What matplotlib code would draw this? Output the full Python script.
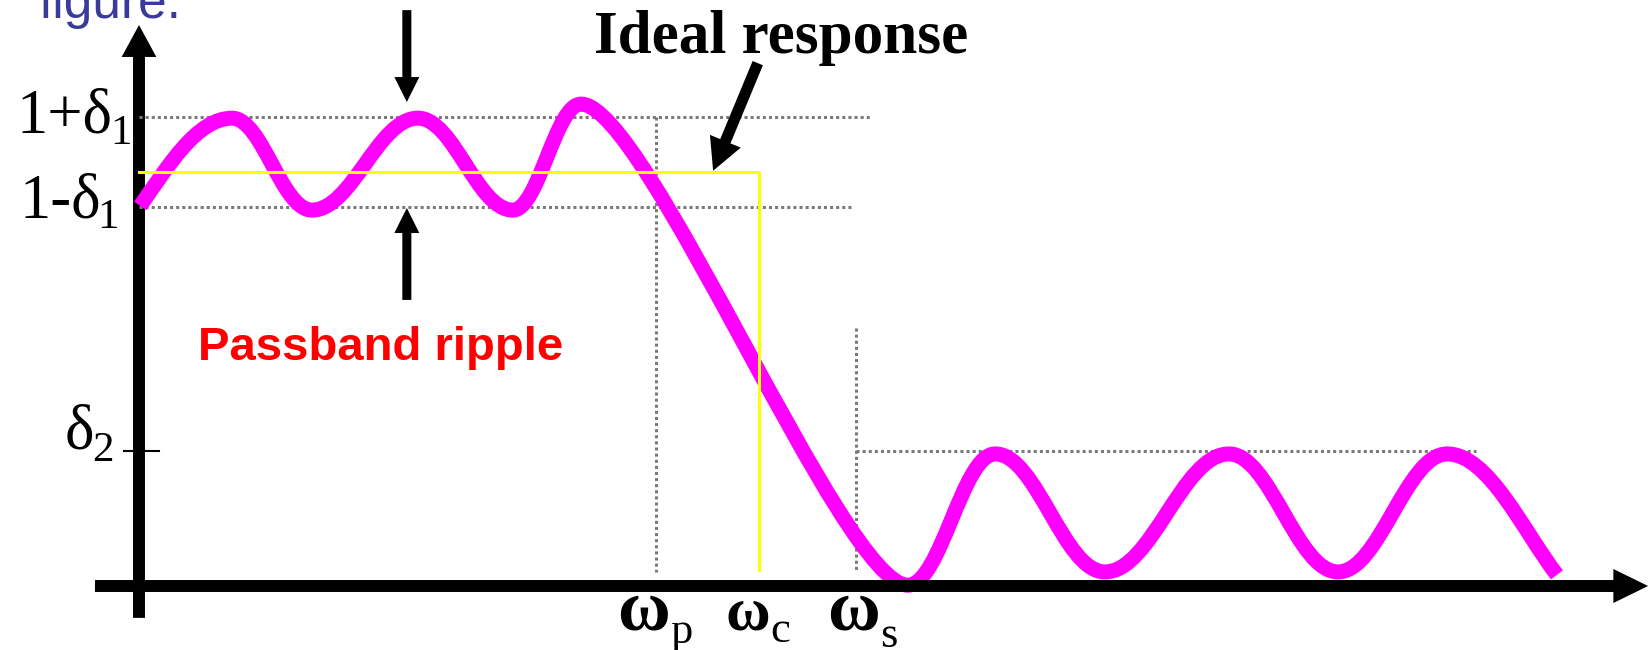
import matplotlib.pyplot as plt
from matplotlib.path import Path
from matplotlib.patches import PathPatch, FancyArrowPatch

plt.rcParams['font.family'] = 'Liberation Serif'

# frequency axis, normalised so that the cut-off wc = 1
w_p = 0.834
w_c = 1.0
w_s = 1.156

# magnitude levels
ideal_level = 1.0
pass_hi = 1.133   # 1 + delta1
pass_lo = 0.915   # 1 - delta1
stop_hi = 0.326   # delta2

# turning points of the sketched response (start, peaks/troughs, end)
resp_w = [0.002, 0.150, 0.279, 0.450, 0.603, 0.713, 1.240,
          1.381, 1.558, 1.758, 1.934, 2.110, 2.287]
resp_mag = [0.918, 1.130, 0.908, 1.130, 0.908, 1.164, 0.002,
            0.319, 0.034, 0.319, 0.034, 0.319, 0.027]
# roundness of each segment between turning points
resp_k = [0.38, 0.38, 0.38, 0.38, 0.38, 0.2,
          0.38, 0.38, 0.38, 0.38, 0.38, 0.38]

level_labels = ['1+δ', '1-δ', 'δ']
level_subs = ['1', '1', '2']
freq_subs = ['p', 'c', 's']

#%% figure: one axes over the whole canvas, 620 px per unit of w, 414 px per unit of |H|
fig = plt.figure(figsize=(16.5, 6.5), dpi=100, facecolor='white')
ax = fig.add_axes([0, 0, 1, 1])
ax.set_xlim(-139 / 620, 1511 / 620)
ax.set_ylim(-64 / 414, 586 / 414)
ax.axis('off')


def arrow(tail, tip, tw, hw, hl, z=5):
    style = f'simple,tail_width={tw},head_width={hw},head_length={hl}'
    ax.add_patch(FancyArrowPatch(tail, tip, arrowstyle=style, mutation_scale=1,
                                 color='black', lw=0, shrinkA=0, shrinkB=0, zorder=z))


# axes with arrow heads
arrow((0, -0.077), (0, 1.355), 8.6, 25, 23, z=1)
arrow((-0.071, 0), (2.434, 0), 8.6, 24.5, 25, z=6)
ax.plot([-0.024, 0.032], [stop_hi, stop_hi], color='black', lw=1.5, zorder=2)

# dotted guide lines
dot = dict(color='#7a7a7a', lw=2.2, linestyle=(0, (1, 1)), zorder=2)
ax.plot([0, 1.182], [pass_hi, pass_hi], **dot)
ax.plot([0, 1.153], [pass_lo, pass_lo], **dot)
ax.plot([w_p, w_p], [pass_hi, 0.034], **dot)
ax.plot([w_s, w_s], [0.623, 0.034], **dot)
ax.plot([w_s, 2.156], [stop_hi, stop_hi], **dot)

# sketched magnitude response as a chain of cubic Bezier segments
verts = [(resp_w[0], resp_mag[0])]
codes = [Path.MOVETO]
n = len(resp_w)
for i in range(n - 1):
    x0, y0, x1, y1 = resp_w[i], resp_mag[i], resp_w[i + 1], resp_mag[i + 1]
    dx, dy, k = x1 - x0, y1 - y0, resp_k[i]
    c1 = (x0 + 0.3 * dx, y0 + 0.45 * dy) if i == 0 else (x0 + k * dx, y0)
    c2 = (x1 - 0.3 * dx, y1 - 0.35 * dy) if i == n - 2 else (x1 - k * dx, y1)
    verts += [c1, c2, (x1, y1)]
    codes += [Path.CURVE4] * 3
ax.add_patch(PathPatch(Path(verts, codes), facecolor='none', edgecolor='#ff00ff',
                       lw=10.8, capstyle='butt', joinstyle='round', zorder=4))

# ideal brick-wall response
ax.plot([0, w_c, w_c], [ideal_level, ideal_level, 0.039], color='#ffff00', lw=2.2, zorder=5)

# level labels on the y axis
lab_off = [(-26, -16, -29, -27), (-38, -10, -42, -21), (-45, 3, -47, -10)]
for lev, txt, sub, (mx, my, sx, sy) in zip([pass_hi, pass_lo, stop_hi], level_labels,
                                           level_subs, lab_off):
    ax.annotate(txt, (0, lev), xytext=(mx, my), textcoords='offset pixels',
                ha='right', va='baseline', fontsize=45)
    ax.annotate(sub, (0, lev), xytext=(sx, sy), textcoords='offset pixels',
                ha='left', va='baseline', fontsize=31)

# frequency labels under the x axis
freq_off = [(14, 14, -57, 52), (11, 11, -56, 44), (24, 24, -61, 52)]
for w, sub, (mx, sx, sy, fs) in zip([w_p, w_c, w_s], freq_subs, freq_off):
    ax.annotate('ω', (w, 0), xytext=(mx, -44), textcoords='offset pixels',
                ha='right', va='baseline', fontsize=fs, fontweight='bold')
    ax.annotate(sub, (w, 0), xytext=(sx, sy), textcoords='offset pixels',
                ha='left', va='baseline', fontsize=32)

# annotations
ax.text(1.035, 1.287, 'Ideal response', ha='center', va='baseline',
        fontsize=44, fontweight='bold')
arrow((0.998, 1.263), (0.926, 1.003), 8, 24, 23)
arrow((0.432, 1.391), (0.432, 1.169), 6.5, 18, 18)
arrow((0.432, 0.691), (0.432, 0.913), 6.5, 18, 18)
ax.text(0.095, 0.546, 'Passband ripple', ha='left', va='baseline', fontsize=34,
        fontweight='bold', color='#ff0000', family='Liberation Sans')

fig.text(38 / 1650, 1 - 18 / 650, 'figure.', ha='left', va='baseline', fontsize=37,
         color='#3a3a9a', family='Liberation Sans')

plt.savefig('out.png', dpi=100, facecolor='white')
